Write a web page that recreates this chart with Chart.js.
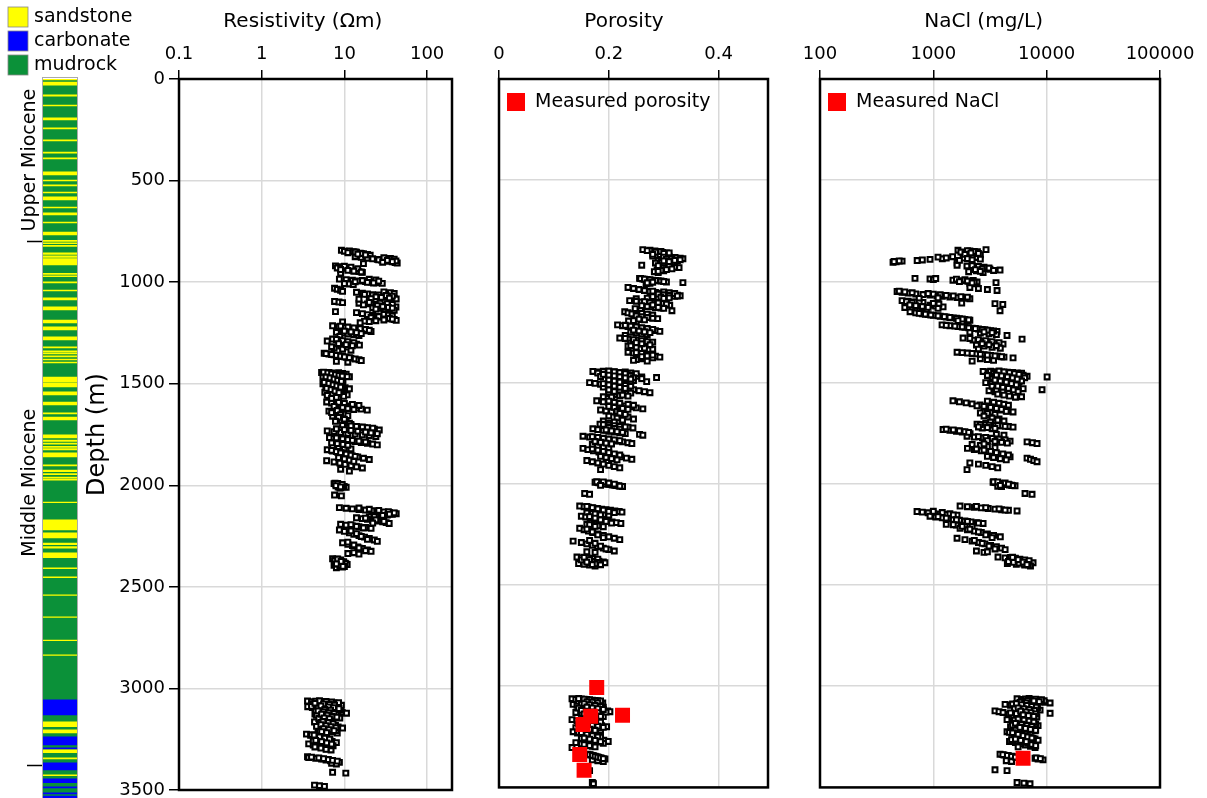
<!DOCTYPE html>
<html>
<head>
<meta charset="utf-8">
<script src="https://cdn.jsdelivr.net/npm/chart.js@4.4.1/dist/chart.umd.min.js"></script>
<style>
html, body { margin: 0; padding: 0; background: #fff; }
body { position: relative; width: 1207px; height: 798px; overflow: hidden; }
canvas { position: absolute; top: 0; }
#lith { left: 0; }
#res { left: 80px; }
#por { left: 470px; }
#nacl { left: 790px; }
</style>
</head>
<body>
<canvas id="lith" width="170" height="798"></canvas>
<canvas id="res" width="380" height="798"></canvas>
<canvas id="por" width="310" height="798"></canvas>
<canvas id="nacl" width="417" height="798"></canvas>
<script>

// log samples: depth (m) with resistivity (ohm m), porosity (-) and NaCl (mg/L)
const depth = [
  843, 846, 850, 853, 857, 860, 864, 868,
  875, 878, 882, 885, 888, 891, 894, 897, 900, 903, 906, 909,
  920, 924, 928, 932, 936, 940, 944, 948, 952, 956,
  985, 988, 991, 994, 997, 1000, 1003, 1006, 1009, 1012,
  1030, 1035, 1040, 1045, 1050, 1054, 1058, 1062, 1065, 1068, 1071, 1074, 1077, 1080, 1083, 1086,
  1095, 1098, 1101, 1104, 1107, 1110, 1114, 1118, 1122, 1126, 1129, 1132, 1135, 1138,
  1145, 1150, 1155, 1160, 1164, 1168, 1172, 1176, 1180, 1184, 1188, 1192, 1196, 1200,
  1215, 1219, 1223, 1227, 1231, 1235, 1239, 1243, 1247, 1251, 1255, 1259, 1263, 1267,
  1280, 1285, 1290, 1295, 1300, 1305, 1310, 1315, 1320, 1325, 1330, 1335,
  1350, 1354, 1358, 1362, 1366, 1370, 1374, 1378, 1382, 1386, 1390, 1394,
  1445, 1448, 1451, 1454, 1457, 1460, 1463, 1466, 1469, 1472, 1475, 1478, 1482, 1486, 1490, 1495,
  1500, 1504, 1508, 1512, 1516, 1520, 1525, 1530, 1535, 1540, 1545, 1550, 1555, 1560, 1565, 1570,
  1590, 1595, 1600, 1605, 1610, 1615, 1620, 1625, 1630, 1635, 1640, 1645, 1650, 1660, 1670, 1680, 1690, 1700,
  1705, 1708, 1711, 1714, 1717, 1720, 1724, 1728, 1732, 1736, 1740, 1744, 1748, 1752, 1756, 1760,
  1765, 1769, 1773, 1777, 1781, 1785, 1789, 1793, 1797, 1801, 1806, 1811, 1816, 1821,
  1825, 1831, 1837, 1843, 1849, 1855, 1861, 1867, 1873, 1879, 1885, 1891, 1897, 1903, 1909, 1915, 1921, 1930,
  1992, 1995, 1998, 2001, 2004, 2007, 2010, 2013,
  2048, 2052,
  2110, 2113, 2116, 2119, 2122, 2125, 2128, 2131, 2134, 2137, 2140, 2143, 2146, 2149, 2152, 2155,
  2160, 2164, 2168, 2172, 2176, 2180, 2184, 2188, 2192, 2196, 2200, 2204, 2208, 2212,
  2220, 2227, 2234, 2241, 2248, 2255, 2262, 2269, 2276, 2283, 2290, 2297, 2304, 2311, 2318, 2325, 2332, 2339,
  2362, 2366, 2370, 2374, 2378, 2382, 2386, 2390, 2394, 2398, 2402, 2406,
  3062, 3065, 3068, 3071, 3074, 3077, 3080, 3083,
  3090, 3094, 3098, 3102, 3106, 3110, 3114, 3118, 3122, 3126, 3130, 3134, 3138, 3142, 3146, 3150,
  3165, 3170, 3175, 3180, 3185, 3190, 3195, 3200, 3205, 3210, 3215, 3220,
  3225, 3231, 3237, 3243, 3249, 3255, 3261, 3267, 3273, 3279, 3285, 3291, 3297, 3303,
  3336, 3340, 3344, 3348, 3352, 3356, 3360, 3364, 3368, 3372,
  3413, 3417,
  3476, 3479, 3482,
  // second pass
  848, 852, 855, 859, 862, 866,
  880, 884, 887, 890, 893, 896, 899, 902,
  922, 926, 930, 934, 938, 942, 946, 950,
  986, 989, 992, 995, 998, 1001, 1004, 1007,
  1048, 1052, 1056, 1060, 1063, 1066, 1069, 1072, 1075, 1078, 1081, 1084,
  1100, 1103, 1106, 1109, 1112, 1116, 1120, 1124, 1128, 1133,
  1158, 1162, 1166, 1170, 1174, 1178, 1182, 1186, 1190, 1194,
  1217, 1221, 1225, 1229, 1233, 1237, 1241, 1245, 1249, 1253,
  1282, 1288, 1293, 1298, 1303, 1308, 1313, 1318, 1352, 1356, 1360, 1364, 1368, 1372,
  1444, 1446, 1447, 1449, 1450, 1452, 1453, 1455, 1456, 1458, 1459, 1461,
  1462, 1464, 1465, 1467, 1468, 1470, 1471, 1473, 1476, 1480, 1484, 1492,
  1502, 1506, 1510, 1514, 1518, 1522, 1527, 1532, 1537, 1542, 1547, 1552, 1557, 1562, 1567, 1572,
  1592, 1597, 1602, 1607, 1612, 1617, 1622, 1627, 1632, 1642, 1652, 1657, 1665, 1675, 1685, 1695,
  1707, 1710, 1713, 1716, 1719, 1722, 1726, 1730, 1734, 1738, 1742, 1746,
  1767, 1771, 1775, 1779, 1783, 1787, 1791, 1795, 1799, 1803,
  1828, 1834, 1840, 1846, 1852, 1858, 1864, 1870, 1876, 1882,
  1994, 1997, 2000, 2003, 2006, 2009, 2012, 1990,
  2112, 2118, 2124, 2130, 2136, 2142, 2148, 2154, 2162, 2170, 2178, 2186,
  2194, 2202, 2210, 2224, 2238, 2252, 2266, 2280, 2294, 2308, 2322, 2336,
  2364, 2368, 2372, 2376, 2380, 2384, 2388, 2392, 2396, 2400,
  3063, 3066, 3069, 3072, 3075, 3078, 3081, 3088, 3092, 3096, 3100, 3104,
  3108, 3112, 3116, 3120, 3124, 3128, 3132, 3136, 3140, 3144, 3148, 3152,
  3167, 3172, 3177, 3182, 3187, 3192, 3197, 3202, 3207, 3212, 3217, 3228,
  3234, 3240, 3246, 3252, 3258, 3264, 3270, 3276, 3282, 3288, 3294, 3300,
  3338, 3342, 3346, 3350, 3354, 3358,
  // third pass
  3061, 3064, 3067, 3070, 3073, 3076, 3079, 3082, 3086, 3091, 3095, 3099,
  3103, 3107, 3111, 3115, 3119, 3123, 3127, 3131, 3137, 3141, 3145, 3149,
  3163, 3168, 3173, 3178, 3183, 3188, 3193, 3198, 3203, 3208,
  3213, 3218, 3230, 3238, 3244, 3250, 3256, 3262, 3268, 3274,
  1443, 1447, 1451, 1455, 1459, 1463, 1467, 1471, 1477, 1483,
  1488, 1493, 1498, 1505, 1511, 1517, 1523, 1529, 1536, 1544,
  1991, 1996, 2002, 2008, 2363, 2375, 2387, 2399
];

const resistivity = [
  9.2, 11.5, 12.8, 14.0, 15.5, 17.0, 19.0, 20.5,
  13.5, 16, 18.9, 22, 25, 28, 31, 34, 37.9, 41, 43.5, 17,
  7.8, 8.5, 9.5, 10.5, 11.5, 12.5, 13.8, 15, 16.5, 9.0,
  8.7, 10.5, 12.5, 15, 18, 21, 24.5, 28.7, 11.5, 12.8,
  7.6, 8.2, 9.0, 9.5, 14, 16.5, 19, 22, 25, 28, 31, 34, 37, 40, 42.3, 20,
  7.6, 8.6, 9.5, 15, 19, 24, 30, 36, 42, 22, 26, 31, 36, 40,
  7.8, 14, 16.5, 19, 22, 25, 28, 32, 36, 40, 42.3, 17.5, 9.5, 15.5,
  7.2, 8.5, 10, 12, 14, 16.5, 19, 21, 8.0, 9.5, 11, 13, 15, 8.8,
  7.2, 8.5, 6.2, 10, 12, 14, 15.2, 9, 11, 7.5, 9.5, 12,
  5.7, 6.5, 7.5, 8.5, 9.5, 10.5, 12, 13.5, 15, 16, 8, 11,
  5.3, 6.0, 6.8, 7.5, 8.2, 9.0, 10, 11.5, 5.8, 6.5, 7.2, 8.0, 8.8, 9.6, 6.2, 7.0,
  5.5, 6.3, 7.2, 8.0, 9.0, 10.2, 11.5, 6.0, 6.8, 7.6, 8.5, 9.5, 10.8, 6.5, 7.5, 8.5,
  6.1, 7.0, 8.0, 9.0, 10.5, 12, 14, 16, 18.9, 6.5, 7.5, 8.5, 9.8, 7.2, 8.2, 9.3, 10.5, 12,
  9.5, 11, 13, 15, 17.5, 20, 23, 26.4, 6.2, 7.5, 9, 11, 13.5, 16.5, 20, 24,
  6.6, 7.5, 8.7, 10, 11.5, 13.5, 16, 19, 22, 25, 7.2, 8.5, 10, 12,
  6.2, 7.2, 8.3, 9.5, 11, 12.5, 14.5, 17, 20, 6.1, 7.5, 8.8, 10.2, 12, 14, 16.5, 9, 11.5,
  7.5, 8.0, 8.5, 9.0, 9.5, 10, 10.5, 8.8,
  7.6, 9.2,
  8.7, 10.5, 12.5, 15, 18, 21.5, 25.5, 30, 35, 40, 42.3, 38, 33, 28, 24, 20,
  14, 16.5, 19, 22, 25.5, 29, 32, 34.8, 9, 10.5, 12.5, 15, 18, 21,
  8.7, 10, 11.5, 13, 15, 17.5, 20, 23, 25, 9.5, 11, 12.5, 14.5, 16.5, 19, 21, 13, 15,
  7.2, 7.7, 8.2, 8.7, 9.2, 9.8, 10.4, 10.8, 7.5, 8.5, 9.5, 8.0,
  3.58, 4.0, 4.6, 5.2, 6.0, 6.9, 8.0, 9.2,
  3.6, 4.1, 4.7, 5.4, 6.2, 7.1, 8.2, 9.4, 10.6, 4.4, 5.0, 5.8, 6.7, 7.7, 8.8, 5.5,
  4.35, 5.0, 5.7, 6.5, 7.4, 8.4, 9.5, 4.8, 5.5, 6.3, 7.2, 8.2,
  3.48, 3.9, 4.4, 5.0, 5.6, 6.3, 7.1, 8.0, 3.7, 4.2, 4.8, 5.4, 6.1, 6.9,
  3.58, 3.7, 4.5, 5.3, 6.0, 6.8, 7.6, 8.7, 7.0, 8.0,
  7.2, 10.4,
  4.35, 5.0, 5.74,
  // second pass
  10, 13.5, 11, 16, 14.5, 18,
  30, 36, 40, 26, 33, 42, 38, 29,
  10, 12, 8.2, 14.5, 9, 11, 13, 16,
  20, 24, 16.5, 26, 13.5, 19, 22.5, 10,
  30, 36, 40, 17.5, 26, 32, 38, 24, 28, 35, 21, 15,
  20, 27, 33, 38, 17, 25, 29, 34, 38, 24,
  30, 34, 38, 26, 21, 35, 38, 30, 24, 20,
  9, 11, 13, 15.5, 18, 20, 10, 12, 14, 16,
  8, 9.5, 11, 13, 8.5, 10.5, 12.5, 7, 6, 7, 8, 9, 10, 11.5,
  6.5, 8.5, 7.0, 9.5, 5.6, 7.8, 10.5, 6.2, 8.8, 7.2, 5.9, 9.8,
  6.8, 8.0, 10.8, 5.5, 7.4, 9.2, 6.0, 8.4, 7.8, 6.6, 9.0, 8.2,
  7.5, 8.5, 6.0, 9.5, 7.0, 8.2, 6.4, 9.0, 7.8, 5.8, 8.8, 7.2, 6.2, 9.8, 8.0, 7.0,
  8.5, 10, 12.5, 15, 7.5, 9.5, 11, 13, 8.2, 7, 9, 11, 8.5, 10, 7.8, 11.5,
  12, 14, 16.5, 19, 22, 8, 10, 12, 14.5, 18, 21, 25,
  8, 9.5, 11, 12.5, 15, 18, 7, 8.2, 9.6, 11,
  7, 8, 9, 10.5, 12, 13.5, 8.5, 10, 11.5, 13,
  7.8, 8.2, 8.7, 9.2, 9.8, 8.4, 9.0, 7.7,
  15, 20, 26, 34, 40, 35, 29, 23, 18, 24, 30, 22,
  12, 14, 17, 12, 14, 16, 19, 11, 13, 15, 18, 11,
  8.0, 9.0, 7.6, 9.8, 8.4, 10.2, 7.8, 9.4, 8.8, 10,
  4.5, 5.5, 6.5, 7.5, 4.2, 5.0, 6.2, 4.0, 4.8, 5.6, 6.6, 7.8,
  9.0, 4.5, 5.2, 6.0, 7.0, 8.0, 4.6, 5.4, 6.3, 7.3, 4.9, 6.0,
  5.2, 6.0, 6.9, 7.8, 4.6, 5.4, 6.2, 7.0, 8.0, 5.0, 5.8, 4.0,
  4.6, 5.3, 6.0, 6.7, 4.2, 4.9, 5.6, 6.4, 7.3, 4.4, 5.2, 6.0,
  4.0, 4.9, 5.6, 6.4, 7.2, 8.2,
  // third pass
  5.0, 6.0, 7.0, 8.5, 4.4, 5.6, 6.6, 7.6, 5.2, 6.4, 7.4, 8.6,
  5.8, 6.8, 4.8, 5.6, 6.5, 7.5, 5.3, 6.2, 7.1, 8.1, 5.7, 6.6,
  5.5, 6.4, 7.3, 5.2, 6.0, 6.9, 7.9, 5.6, 6.5, 7.5,
  5.3, 6.1, 4.3, 5.0, 5.8, 6.6, 4.5, 5.3, 6.1, 7.0,
  5.6, 6.3, 7.0, 7.8, 8.6, 9.4, 6.0, 6.7, 7.5, 8.3,
  9.2, 5.7, 6.5, 7.3, 8.1, 9.0, 6.1, 6.9, 7.7, 8.6,
  8.3, 9.4, 7.9, 9.0, 8.3, 9.1, 8.0, 9.6
];

const porosity = [
  0.262, 0.275, 0.284, 0.29, 0.298, 0.305, 0.30, 0.293,
  0.28, 0.31, 0.32, 0.33, 0.335, 0.318, 0.30, 0.29, 0.325, 0.31, 0.296, 0.285,
  0.26, 0.30, 0.315, 0.328, 0.31, 0.295, 0.288, 0.30, 0.283, 0.29,
  0.256, 0.262, 0.27, 0.28, 0.29, 0.30, 0.305, 0.335, 0.275, 0.268,
  0.235, 0.245, 0.255, 0.265, 0.275, 0.285, 0.295, 0.305, 0.315, 0.325, 0.33, 0.32, 0.30, 0.29, 0.27, 0.25,
  0.238, 0.25, 0.26, 0.27, 0.28, 0.29, 0.30, 0.311, 0.265, 0.275, 0.285, 0.295, 0.248, 0.258,
  0.315, 0.229, 0.235, 0.242, 0.25, 0.258, 0.265, 0.272, 0.28, 0.289, 0.26, 0.247, 0.236, 0.25,
  0.216, 0.225, 0.235, 0.245, 0.255, 0.265, 0.275, 0.285, 0.293, 0.24, 0.25, 0.26, 0.27, 0.23,
  0.22, 0.235, 0.25, 0.265, 0.28, 0.24, 0.255, 0.27, 0.235, 0.25, 0.265, 0.28,
  0.235, 0.245, 0.255, 0.265, 0.275, 0.285, 0.293, 0.28, 0.26, 0.25, 0.245, 0.27,
  0.171, 0.18, 0.19, 0.2, 0.21, 0.22, 0.23, 0.24, 0.25, 0.26, 0.287, 0.2, 0.215, 0.23, 0.245, 0.269,
  0.165, 0.175, 0.185, 0.195, 0.205, 0.215, 0.225, 0.235, 0.245, 0.255, 0.265, 0.275, 0.2, 0.21, 0.22, 0.19,
  0.178, 0.19, 0.2, 0.21, 0.22, 0.23, 0.24, 0.25, 0.262, 0.185, 0.195, 0.205, 0.215, 0.225, 0.235, 0.245, 0.19, 0.2,
  0.184, 0.195, 0.205, 0.215, 0.225, 0.235, 0.244, 0.171, 0.18, 0.19, 0.2, 0.21, 0.22, 0.23, 0.256, 0.262,
  0.153, 0.165, 0.175, 0.185, 0.195, 0.205, 0.215, 0.225, 0.235, 0.242, 0.17, 0.18, 0.19, 0.2,
  0.153, 0.162, 0.172, 0.182, 0.192, 0.202, 0.212, 0.222, 0.232, 0.242, 0.16, 0.17, 0.18, 0.19, 0.2, 0.21, 0.22, 0.185,
  0.175, 0.182, 0.19, 0.197, 0.204, 0.211, 0.218, 0.225,
  0.156, 0.165,
  0.147, 0.155, 0.163, 0.171, 0.179, 0.187, 0.195, 0.203, 0.211, 0.219, 0.224, 0.16, 0.17, 0.18, 0.19, 0.2,
  0.15, 0.158, 0.166, 0.174, 0.182, 0.19, 0.198, 0.206, 0.214, 0.222, 0.16, 0.17, 0.18, 0.19,
  0.147, 0.155, 0.163, 0.171, 0.18, 0.19, 0.2, 0.21, 0.22, 0.135, 0.15, 0.16, 0.17, 0.18, 0.19, 0.2, 0.21, 0.175,
  0.142, 0.15, 0.158, 0.166, 0.174, 0.182, 0.19, 0.193, 0.145, 0.155, 0.165, 0.175,
  0.133, 0.14, 0.148, 0.156, 0.164, 0.172, 0.18, 0.189,
  0.135, 0.142, 0.15, 0.158, 0.166, 0.174, 0.182, 0.19, 0.198, 0.202, 0.14, 0.15, 0.16, 0.17, 0.18, 0.19,
  0.133, 0.142, 0.151, 0.16, 0.169, 0.178, 0.187, 0.196, 0.14, 0.155, 0.17, 0.185,
  0.135, 0.143, 0.151, 0.159, 0.167, 0.175, 0.183, 0.191, 0.199, 0.14, 0.15, 0.16, 0.17, 0.133,
  0.162, 0.167, 0.172, 0.177, 0.182, 0.187, 0.193, 0.17, 0.18, 0.19,
  0.16, 0.165,
  0.170, 0.171, 0.172,
  // second pass
  0.27, 0.295, 0.285, 0.31, 0.3, 0.28,
  0.3, 0.322, 0.315, 0.305, 0.33, 0.32, 0.3, 0.31,
  0.29, 0.31, 0.32, 0.3, 0.315, 0.305, 0.295, 0.29,
  0.258, 0.265, 0.275, 0.285, 0.295, 0.3, 0.28, 0.27,
  0.28, 0.3, 0.31, 0.32, 0.29, 0.3, 0.31, 0.325, 0.28, 0.295, 0.31, 0.3,
  0.265, 0.275, 0.29, 0.3, 0.305, 0.28, 0.26, 0.27, 0.29, 0.3,
  0.26, 0.27, 0.28, 0.25, 0.26, 0.27, 0.28, 0.255, 0.265, 0.245,
  0.23, 0.24, 0.25, 0.26, 0.27, 0.28, 0.245, 0.255, 0.265, 0.275,
  0.23, 0.245, 0.26, 0.27, 0.25, 0.26, 0.275, 0.24, 0.25, 0.26, 0.27, 0.28, 0.27, 0.26,
  0.19, 0.21, 0.23, 0.2, 0.22, 0.24, 0.18, 0.2, 0.25, 0.22, 0.205, 0.235,
  0.19, 0.215, 0.24, 0.2, 0.225, 0.185, 0.21, 0.23, 0.245, 0.26, 0.22, 0.24,
  0.2, 0.21, 0.22, 0.23, 0.24, 0.19, 0.2, 0.21, 0.22, 0.23, 0.2, 0.24, 0.21, 0.225, 0.235, 0.205,
  0.2, 0.21, 0.22, 0.235, 0.245, 0.2, 0.21, 0.225, 0.235, 0.215, 0.22, 0.23, 0.2, 0.215, 0.225, 0.21,
  0.19, 0.2, 0.21, 0.22, 0.23, 0.2, 0.21, 0.22, 0.195, 0.205, 0.215, 0.225,
  0.17, 0.18, 0.19, 0.2, 0.21, 0.22, 0.175, 0.185, 0.195, 0.205,
  0.17, 0.18, 0.19, 0.2, 0.21, 0.22, 0.185, 0.195, 0.205, 0.215,
  0.18, 0.186, 0.193, 0.2, 0.207, 0.214, 0.22, 0.178,
  0.16, 0.17, 0.18, 0.19, 0.2, 0.21, 0.175, 0.185, 0.165, 0.175, 0.185, 0.195,
  0.205, 0.165, 0.175, 0.16, 0.17, 0.18, 0.19, 0.165, 0.175, 0.185, 0.195, 0.16,
  0.16, 0.17, 0.18, 0.15, 0.16, 0.17, 0.18, 0.165, 0.175, 0.185,
  0.15, 0.16, 0.17, 0.18, 0.145, 0.155, 0.165, 0.15, 0.16, 0.17, 0.18, 0.19,
  0.145, 0.155, 0.165, 0.175, 0.185, 0.195, 0.15, 0.16, 0.17, 0.18, 0.165, 0.175,
  0.15, 0.16, 0.17, 0.18, 0.145, 0.155, 0.165, 0.175, 0.185, 0.16, 0.17, 0.145,
  0.155, 0.165, 0.175, 0.185, 0.15, 0.16, 0.17, 0.18, 0.19, 0.155, 0.165, 0.175,
  0.165, 0.17, 0.175, 0.18, 0.185, 0.19,
  // third pass
  0.145, 0.155, 0.165, 0.175, 0.185, 0.16, 0.17, 0.18, 0.155, 0.165, 0.175, 0.185,
  0.16, 0.17, 0.18, 0.19, 0.15, 0.16, 0.17, 0.18, 0.155, 0.165, 0.175, 0.185,
  0.155, 0.165, 0.175, 0.185, 0.15, 0.16, 0.17, 0.18, 0.19, 0.155,
  0.165, 0.175, 0.15, 0.16, 0.17, 0.18, 0.155, 0.165, 0.175, 0.185,
  0.2, 0.21, 0.22, 0.23, 0.19, 0.2, 0.21, 0.22, 0.23, 0.24,
  0.2, 0.21, 0.22, 0.19, 0.2, 0.21, 0.22, 0.23, 0.2, 0.21,
  0.19, 0.2, 0.21, 0.185, 0.155, 0.165, 0.16, 0.17
];

const nacl = [
  2917, 1650, 2100, 2450, 1830, 2240, 1950, 2600,
  2240, 1480, 2430, 1830, 1200, 935, 800, 720, 530, 470, 441, 1620,
  1620, 1980, 2250, 2600, 2900, 3160, 3877, 2400, 2050, 2750,
  689, 935, 1000, 1490, 1750, 2050, 2430, 3573, 2100, 2250,
  2100, 2500, 3000, 3650, 479, 530, 600, 700, 810, 935, 1078, 1200, 1400, 1620, 1850, 2100,
  530, 600, 700, 810, 1780, 3500, 4100, 935, 1050, 1219, 560, 650, 760, 870,
  3877, 623, 700, 800, 900, 1000, 1150, 1300, 1500, 1700, 1900, 2100, 2000, 1800,
  1194, 1400, 1650, 1900, 2200, 2500, 2850, 3200, 3650, 2100, 2600, 3100, 3600, 4470,
  1829, 6065, 2240, 2600, 3000, 3500, 4120, 2400, 2800, 3300, 3900, 2500,
  1620, 2000, 2400, 2800, 3200, 3700, 4200, 5050, 2600, 3000, 3400, 2200,
  2750, 3100, 3500, 3900, 4300, 4800, 5300, 5900, 6715, 10090, 3300, 3700, 4200, 4700, 5200, 5700,
  2900, 3300, 3700, 4100, 4600, 5100, 5600, 6200, 9100, 3100, 3500, 4000, 4500, 5000, 5500, 6000,
  1490, 1700, 1950, 2200, 2580, 2430, 2800, 3200, 3600, 4000, 4500, 5050, 2600, 3000, 3400, 3800, 4200, 2900,
  2430, 2900, 3400, 4000, 4600, 5050, 2700, 3300, 1219, 1400, 1600, 1800, 2000, 2109, 3600, 4200,
  1983, 2300, 2700, 3100, 3600, 4100, 4754, 6715, 7500, 8225, 2200, 2600, 3000, 3500,
  2000, 2300, 2650, 3000, 3400, 3900, 4400, 4754, 6715, 7200, 7700, 8225, 2100, 2500, 2900, 3300, 3700, 1983,
  3365, 3650, 3950, 4250, 4550, 4900, 5260, 4000,
  6440, 7430,
  1722, 2000, 2300, 2650, 3050, 3500, 4000, 4600, 5480, 718, 800, 900, 1000, 1150, 1300, 1619,
  935, 1050, 1200, 1350, 1500, 1700, 1900, 2150, 2400, 2748, 1300, 1600, 1900, 2200,
  1722, 2000, 2300, 2650, 3000, 3400, 3900, 1619, 1900, 2200, 2500, 2850, 3200, 3600, 4000, 4300, 2400, 2800,
  3720, 4297, 4700, 5150, 5650, 6200, 6800, 7585, 4500, 5400, 6400, 7200,
  5480, 6000, 6600, 7200, 7900, 8700, 9600, 10720,
  4297, 4800, 5300, 5900, 6500, 7200, 8000, 8745, 3500, 3800, 4120, 10720, 4600, 5500, 6400, 7500,
  4470, 5000, 5600, 6200, 6900, 7600, 8400, 4800, 5500, 6300, 7100, 7900,
  4470, 4950, 5450, 6000, 6600, 7200, 7900, 8400, 4700, 5300, 5900, 6500, 7200, 7900,
  3877, 4200, 4600, 5000, 5480, 7900, 8400, 9290, 4400, 4900,
  3500, 4470,
  5480, 6300, 7130,
  // second pass
  2000, 2300, 1750, 2150, 2500, 1900,
  1100, 1300, 2000, 2600, 2200, 1700, 500, 450,
  2200, 2500, 2800, 3100, 2700, 2350, 3400, 2600,
  1050, 1600, 1900, 2250, 2000, 1700, 2300, 2200,
  500, 560, 650, 900, 1000, 1150, 1300, 1500, 1750, 2000, 1100, 750,
  580, 650, 750, 1000, 1120, 620, 700, 800, 900, 1100,
  750, 850, 950, 1100, 1250, 1400, 1600, 1800, 2050, 1650,
  1300, 1550, 1800, 2050, 2350, 2700, 3000, 3400, 2800, 3300,
  2100, 2500, 2900, 3300, 3800, 2700, 3100, 3600, 1800, 2200, 2600, 3000, 3500, 4000,
  3200, 3600, 4000, 4500, 5000, 5500, 6000, 3400, 3800, 4200, 4600, 5100,
  5600, 6200, 3000, 3500, 4100, 4700, 5300, 5800, 6400, 4400, 5000, 6000,
  3500, 4000, 4500, 5000, 3300, 3800, 4300, 4800, 3600, 4100, 4600, 5200, 3700, 4200, 4700, 5300,
  3000, 3400, 3800, 4200, 4600, 2800, 3200, 3600, 4000, 4400, 3000, 3500, 2800, 3300, 3700, 3200,
  2600, 3100, 3700, 4300, 2500, 3000, 3500, 1300, 1500, 1700, 1900, 2050,
  2500, 2900, 3300, 3800, 4300, 3000, 3500, 4000, 4500, 2800,
  2400, 2800, 3200, 3600, 4100, 4600, 3000, 3400, 3900, 4400,
  3500, 3800, 4100, 4400, 4700, 5000, 3700, 3400,
  2400, 2900, 3800, 4300, 1000, 1200, 1400, 1500, 1100, 1300, 1600, 2000,
  2500, 1500, 1800, 2100, 2500, 2900, 3300, 2300, 2700, 3100, 3500, 3000,
  4800, 5300, 5800, 6400, 7000, 4600, 5100, 5700, 6300, 6900,
  6500, 7500, 8500, 9500, 6200, 7000, 8000, 5000, 5600, 6200, 6900, 7600,
  8300, 5200, 5800, 6500, 7300, 8100, 4800, 5400, 6100, 6800, 7500, 8200,
  5200, 5900, 6600, 7300, 8000, 5000, 5700, 6400, 7100, 7800, 5300, 4700,
  5200, 5800, 6400, 7000, 7600, 4900, 5500, 6100, 6800, 7400, 8000, 5600,
  4100, 4500, 4900, 5300, 8100, 8800,
  // third pass
  7000, 8000, 9000, 6800, 7700, 8600, 5800, 6600, 5400, 6000, 6700, 7400,
  8100, 5600, 6300, 7000, 7800, 5900, 6600, 7300, 8000, 6200, 6900, 7700,
  5600, 6300, 7000, 7700, 5300, 6000, 6700, 7400, 5800, 6500,
  7200, 8000, 5000, 5600, 6200, 6800, 7400, 5300, 5900, 6600,
  3800, 4200, 4700, 5200, 5700, 3600, 4000, 4500, 5000, 5500,
  3500, 3900, 4400, 4900, 5400, 3700, 4100, 4600, 5100, 5600,
  3700, 4300, 4600, 3900, 5000, 5600, 6200, 6700
];

// core / water sample measurements
const measuredPorosityDepth = [3006, 3149, 3144, 3189, 3337, 3415];
const measuredPorosity = [0.178, 0.167, 0.225, 0.153, 0.147, 0.155];
const measuredNaclDepth = [3356];
const measuredNacl = [6190];

// lithology column, [top, base] in m; mudrock fills the rest
const sandstoneBeds = [
  [0, 5], [15, 30], [78, 85], [128, 133], [192, 202], [241, 246], [300, 305], [360, 365],
  [389, 394], [458, 473], [498, 502], [522, 527], [557, 562], [581, 596], [631, 636], [660, 670],
  [705, 710], [754, 769], [795, 800], [808, 812], [820, 825], [857, 865], [872, 880], [885, 917],
  [958, 963], [970, 974], [1000, 1005], [1040, 1045], [1079, 1089], [1123, 1138], [1188, 1202],
  [1222, 1237], [1271, 1286], [1320, 1325], [1340, 1345], [1350, 1355], [1365, 1370], [1380, 1385],
  [1395, 1400], [1469, 1493], [1498, 1518], [1542, 1557], [1592, 1607], [1646, 1651], [1666, 1680],
  [1754, 1769], [1780, 1786], [1795, 1800], [1810, 1816], [1822, 1828], [1843, 1863], [1902, 1907],
  [1928, 1935], [1945, 1950], [1962, 1968], [1972, 1977], [2085, 2088], [2173, 2222], [2237, 2262],
  [2287, 2295], [2305, 2312], [2336, 2360], [2410, 2414], [2454, 2458], [2543, 2546], [2651, 2654],
  [2765, 2769], [2838, 2841], [3169, 3193], [3208, 3223], [3307, 3321], [3346, 3351], [3430, 3434]
];
const carbonateBeds = [
  [3060, 3134], [3243, 3282], [3297, 3302], [3371, 3405], [3450, 3469], [3489, 3494], [3519, 3524], [3535, 3544]
];
const columnBase = 3544;

const formations = ['Upper Miocene', 'Middle Miocene'];
const formationLabelDepth = [400, 1990];
const formationBase = [800, 3380];

const resistivityTicks = [0.1, 1, 10, 100];
const porosityTicks = [0, 0.2, 0.4];
const naclTicks = [100, 1000, 10000, 100000];


Chart.defaults.font.family = "'DejaVu Sans', Verdana, sans-serif";
Chart.defaults.color = '#000';

const gridGrey = '#d9d9d9';


function points(values, depths) {
  return values.map((v, i) => ({x: v, y: depths[i]}));
}


function logSet(values) {
  return {
    label: 'log',
    data: points(values, depth),
    pointStyle: 'rect',
    pointRadius: 3.4,
    borderWidth: 2.1,
    borderColor: '#000',
    backgroundColor: '#fff'
  };
}


function measuredSet(label, values, depths) {
  return {
    label: label,
    data: points(values, depths),
    pointStyle: 'rect',
    pointRadius: 10.6,
    borderWidth: 0,
    borderColor: '#ff0000',
    backgroundColor: '#ff0000'
  };
}


// titles sit a little left of the track centre, hence the trailing spaces
function topAxis(type, min, max, tickValues, title) {
  return {
    type: type,
    position: 'top',
    min: min,
    max: max,
    border: {display: false},
    grid: {color: gridGrey, lineWidth: 1.5, tickColor: '#000', tickLength: 9},
    ticks: {padding: 5, font: {size: 18}, callback: v => String(v)},
    afterBuildTicks: s => { s.ticks = tickValues.map(v => ({value: v})); },
    title: {display: true, text: title, font: {size: 20}, padding: {top: 10, bottom: 0}},
    afterFit: s => { s.height = 79; }
  };
}


function depthAxis(labelled) {
  return {
    type: 'linear',
    reverse: true,
    min: 0,
    max: 3500,
    border: {display: false},
    grid: {color: gridGrey, lineWidth: 1.5, tickColor: '#000', tickLength: 10, drawTicks: labelled},
    ticks: {display: labelled, stepSize: 500, padding: 4, font: {size: 18}, callback: v => String(v)},
    title: {display: labelled, text: 'Depth (m)', font: {size: 24}, padding: {top: 3, bottom: 0}},
    afterFit: s => {
      s.width = labelled ? 99 : 0;
      // keep the end labels from pulling the plot area in
      s.paddingTop = 0;
      s.paddingBottom = 0;
    }
  };
}


// black frame round each track
const frame = {
  id: 'frame',
  afterDatasetsDraw(chart) {
    const {ctx, chartArea: a} = chart;
    ctx.save();
    ctx.strokeStyle = '#000';
    ctx.lineWidth = 2.5;
    ctx.strokeRect(a.left, a.top, a.right - a.left, a.bottom - a.top);
    ctx.restore();
  }
};


// key for the red measured points, top left inside the track
const measuredKey = {
  id: 'measuredKey',
  afterDraw(chart) {
    const ds = chart.data.datasets[0];
    const {ctx, chartArea: a} = chart;
    ctx.save();
    ctx.fillStyle = ds.backgroundColor;
    ctx.fillRect(a.left + 8, a.top + 14, 18, 18);
    ctx.fillStyle = '#000';
    ctx.font = "19px 'DejaVu Sans', Verdana, sans-serif";
    ctx.textBaseline = 'middle';
    ctx.fillText(ds.label, a.left + 36, a.top + 23);
    ctx.restore();
  }
};


// lithology key, formation names and boundaries beside the column
const lithologyDecor = {
  id: 'lithologyDecor',
  afterDraw(chart) {
    const {ctx, chartArea: a} = chart;
    const y = chart.scales.y;
    ctx.save();

    ctx.strokeStyle = '#aaa';
    ctx.lineWidth = 1;
    ctx.strokeRect(a.left - 0.5, a.top - 1.5, a.right - a.left + 1, a.bottom - a.top + 2);

    ctx.font = "19px 'DejaVu Sans', Verdana, sans-serif";
    ctx.textBaseline = 'middle';
    chart.data.datasets.forEach((ds, i) => {
      const top = 7 + i * 24;
      ctx.fillStyle = ds.backgroundColor;
      ctx.fillRect(8, top, 20, 20);
      ctx.strokeStyle = '#888';
      ctx.lineWidth = 0.8;
      ctx.strokeRect(8, top, 20, 20);
      ctx.fillStyle = '#000';
      ctx.fillText(ds.label, 34, top + 10);
    });

    ctx.strokeStyle = '#000';
    ctx.lineWidth = 1.5;
    formationBase.forEach(d => {
      const py = Math.round(y.getPixelForValue(d)) + 0.5;
      ctx.beginPath();
      ctx.moveTo(27, py);
      ctx.lineTo(42, py);
      ctx.stroke();
    });

    ctx.textAlign = 'center';
    formations.forEach((name, i) => {
      ctx.save();
      ctx.translate(30, y.getPixelForValue(formationLabelDepth[i]));
      ctx.rotate(-Math.PI / 2);
      ctx.fillText(name, 0, 0);
      ctx.restore();
    });

    ctx.restore();
  }
};


const common = {
  responsive: false,
  animation: false,
  devicePixelRatio: 1,
  plugins: {legend: {display: false}, tooltip: {enabled: false}}
};


new Chart(document.getElementById('lith'), {
  type: 'bar',
  data: {
    labels: ['column'],
    datasets: [
      {label: 'sandstone', data: sandstoneBeds.map(b => ({x: 'column', y: b})), backgroundColor: '#ffff00'},
      {label: 'carbonate', data: carbonateBeds.map(b => ({x: 'column', y: b})), backgroundColor: '#0000ff'},
      {label: 'mudrock', data: [{x: 'column', y: [0, columnBase]}], backgroundColor: '#0b9139'}
    ]
  },
  options: {
    ...common,
    layout: {padding: {left: 43, right: 93, top: 79, bottom: 0}},
    datasets: {bar: {grouped: false, categoryPercentage: 1, barPercentage: 1, borderWidth: 0}},
    scales: {
      x: {display: false},
      y: {display: false, reverse: true, min: 0, max: columnBase}
    }
  },
  plugins: [lithologyDecor]
});


new Chart(document.getElementById('res'), {
  type: 'scatter',
  data: {datasets: [logSet(resistivity)]},
  options: {
    ...common,
    layout: {padding: {left: 0, right: 8, top: 0, bottom: 8}},
    scales: {
      x: topAxis('logarithmic', 0.1, 200, resistivityTicks, 'Resistivity (Ωm)    '),
      y: depthAxis(true)
    }
  },
  plugins: [frame]
});


new Chart(document.getElementById('por'), {
  type: 'scatter',
  data: {
    datasets: [
      measuredSet('Measured porosity', measuredPorosity, measuredPorosityDepth),
      logSet(porosity)
    ]
  },
  options: {
    ...common,
    layout: {padding: {left: 29, right: 12, top: 0, bottom: 8}},
    scales: {
      x: topAxis('linear', 0, 0.49, porosityTicks, 'Porosity   '),
      y: depthAxis(false)
    }
  },
  plugins: [frame, measuredKey]
});


new Chart(document.getElementById('nacl'), {
  type: 'scatter',
  data: {
    datasets: [
      measuredSet('Measured NaCl', measuredNacl, measuredNaclDepth),
      logSet(nacl)
    ]
  },
  options: {
    ...common,
    layout: {padding: {left: 30, right: 47, top: 0, bottom: 8}},
    scales: {
      x: topAxis('logarithmic', 100, 100000, naclTicks, 'NaCl (mg/L)  '),
      y: depthAxis(false)
    }
  },
  plugins: [frame, measuredKey]
});

</script>
</body>
</html>
